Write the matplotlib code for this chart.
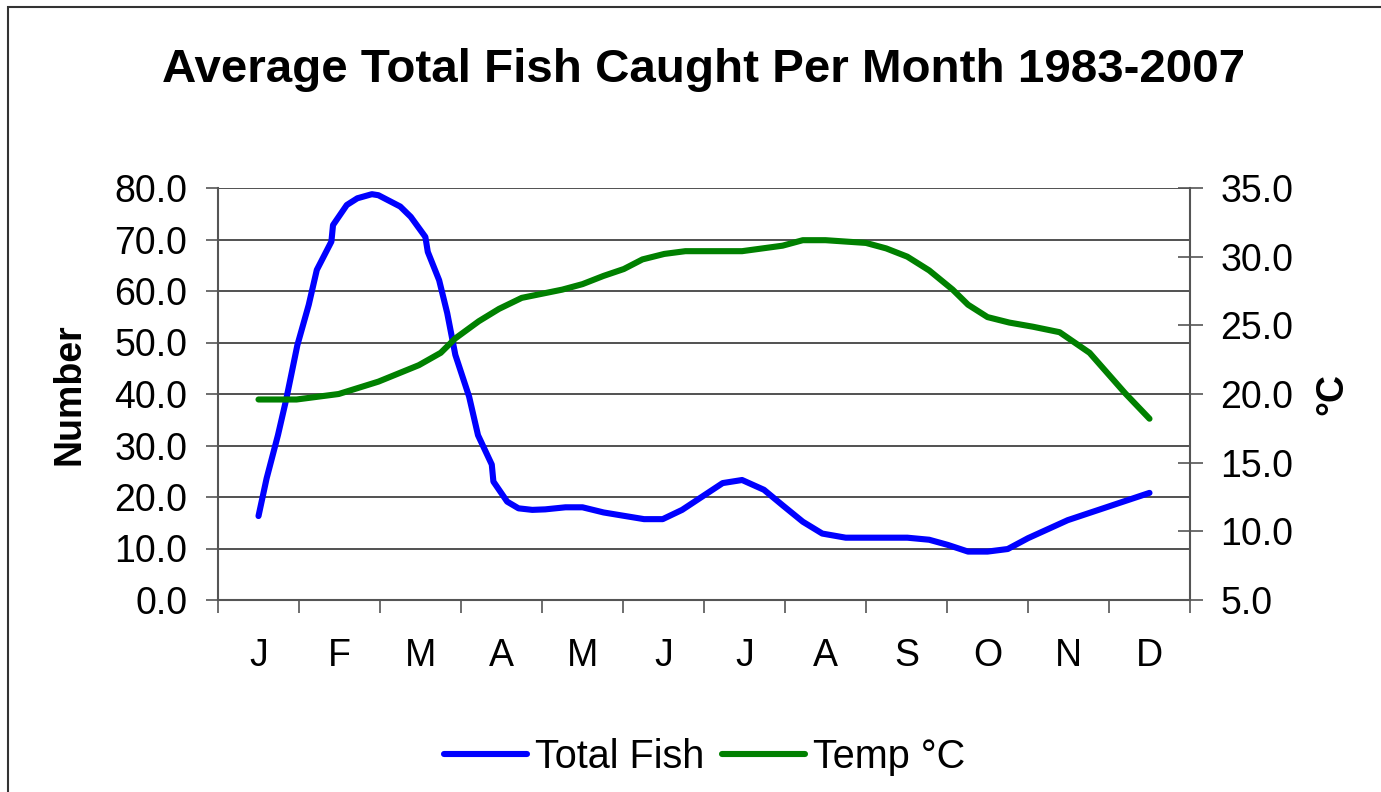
import matplotlib.pyplot as plt
from matplotlib.patches import Rectangle

plt.rcParams['font.family'] = ['Liberation Sans', 'DejaVu Sans']

months = ['J', 'F', 'M', 'A', 'M', 'J', 'J', 'A', 'S', 'O', 'N', 'D']

# positions in month units (0 = Jan)
fish_pos = [0.0, 0.10, 0.24, 0.34, 0.48, 0.62, 0.72, 0.90, 0.92, 1.09, 1.22, 1.40,
            1.48, 1.75, 1.88, 2.06, 2.09, 2.23, 2.33, 2.43, 2.60, 2.71, 2.88, 2.90,
            3.07, 3.21, 3.38, 3.54, 3.79, 4.00, 4.26, 4.49, 4.76, 4.99, 5.23, 5.48,
            5.73, 5.97, 6.24, 6.47, 6.72, 6.96, 7.25, 8.01, 8.28, 8.51, 8.76, 9.00,
            9.25, 9.50, 9.99, 11.0]
fish_vals = [16.3, 23.6, 32.0, 38.8, 49.5, 57.3, 64.1, 69.6, 72.8, 76.7, 78.0, 78.8,
             78.6, 76.4, 74.4, 70.5, 67.6, 62.1, 55.7, 47.6, 39.5, 32.0, 26.3, 23.0,
             19.1, 17.8, 17.5, 17.6, 18.0, 18.0, 17.0, 16.4, 15.7, 15.7, 17.5, 20.1,
             22.7, 23.3, 21.4, 18.4, 15.2, 12.9, 12.1, 12.1, 11.7, 10.7, 9.4, 9.4,
             9.9, 12.0, 15.5, 20.8]

temp_pos = [0.0, 0.47, 0.99, 1.48, 1.98, 2.25, 2.43, 2.72, 2.97, 3.25, 3.50, 3.75,
            4.00, 4.26, 4.51, 4.74, 5.01, 5.27, 5.97, 6.22, 6.47, 6.72, 7.0, 7.50,
            7.75, 8.01, 8.28, 8.57, 8.76, 9.00, 9.27, 9.56, 9.89, 10.26, 10.70, 11.0]
temp_vals = [19.6, 19.6, 20.0, 20.9, 22.1, 23.0, 24.05, 25.3, 26.2, 27.0, 27.3, 27.6,
             28.0, 28.6, 29.1, 29.8, 30.2, 30.4, 30.4, 30.6, 30.8, 31.2, 31.2, 31.0,
             30.6, 30.0, 29.0, 27.6, 26.5, 25.6, 25.2, 24.9, 24.5, 23.0, 20.05, 18.2]

fig = plt.figure(figsize=(13.81, 7.92), dpi=100)
fig.patches.append(Rectangle((8 / 1381, -0.1), 1.2, 1.1 - 7 / 792, transform=fig.transFigure,
                             fill=False, edgecolor='#333333', linewidth=1.5))

ax = fig.add_axes([218 / 1381, 1 - 600 / 792, 972 / 1381, 412 / 792])
ax2 = ax.twinx()

l1, = ax.plot(fish_pos, fish_vals, color='#0000ff', linewidth=4.4, solid_capstyle='round',
              solid_joinstyle='round', label='Total Fish', zorder=3)
l2, = ax2.plot(temp_pos, temp_vals, color='#008000', linewidth=4.4, solid_capstyle='round',
               solid_joinstyle='round', label='Temp °C', zorder=3)

ax.set_xlim(-0.5, 11.5)
ax.set_ylim(0, 80)
ax2.set_ylim(5, 35)

ax.set_yticks(range(0, 81, 10))
ax.set_yticklabels(['%.1f' % v for v in range(0, 81, 10)])
ax2.set_yticks(range(5, 36, 5))
ax2.set_yticklabels(['%.1f' % v for v in range(5, 36, 5)])

ax.set_xticks(range(12))
ax.set_xticklabels(months)
ax.set_xticks([i - 0.5 for i in range(13)], minor=True)
ax.tick_params(axis='x', which='major', length=0, pad=27, labelsize=27)
ax.tick_params(axis='x', which='minor', length=9, width=1.2, color='#555555', direction='out')
ax.tick_params(axis='y', length=9, width=1.2, color='#555555', direction='out', pad=13, labelsize=27)
ax2.tick_params(axis='y', length=18, width=1.2, color='#555555', direction='inout', pad=13, labelsize=27)

ax.yaxis.grid(True, color='#222222', linewidth=1.1)
ax.set_axisbelow(True)
for a in (ax, ax2):
    for s in a.spines.values():
        s.set_visible(False)
    a.patch.set_visible(False)
for side in ('left', 'bottom'):
    ax.spines[side].set_visible(True)
    ax.spines[side].set_color('#555555')
    ax.spines[side].set_linewidth(1.5)
ax2.spines['right'].set_visible(True)
ax2.spines['right'].set_color('#555555')
ax2.spines['right'].set_linewidth(1.5)

fig.text(0.5095, 1 - 82 / 792, 'Average Total Fish Caught Per Month 1983-2007',
         ha='center', va='baseline', fontsize=34.2, fontweight='bold')
fig.text(70 / 1381, 1 - 394 / 792, 'Number', rotation=90, ha='center', va='center',
         fontsize=27, fontweight='bold')
fig.text(1332 / 1381, 1 - 394 / 792, '°C', rotation=90, ha='center', va='center',
         fontsize=27, fontweight='bold')

fig.legend(handles=[l1, l2], loc='center', bbox_to_anchor=(704.5 / 1381, 1 - 757 / 792),
           ncol=2, frameon=False, fontsize=28.5, handlelength=2.1, handletextpad=0.2,
           columnspacing=0.45)

fig.savefig('out.png', dpi=100)
